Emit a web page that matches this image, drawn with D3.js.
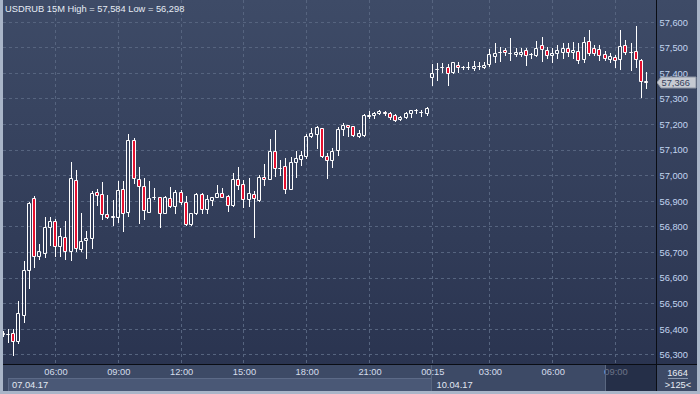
<!DOCTYPE html>
<html><head><meta charset="utf-8">
<script src="https://cdn.jsdelivr.net/npm/d3@7"></script>
<style>
html,body{margin:0;padding:0;background:#2e3854;}
svg{display:block;font-family:"Liberation Sans",Arial,sans-serif;}
</style>
</head><body>
<svg id="chart" width="700" height="394"></svg>
<script>
// ---------- DATA ----------
const day1Times = ["03:30","03:45",
"04:00","04:15","04:30","04:45","05:00","05:15","05:30","05:45",
"06:00","06:15","06:30","06:45","07:00","07:15","07:30","07:45",
"08:00","08:15","08:30","08:45","09:00","09:15","09:30","09:45",
"10:00","10:15","10:30","10:45","11:00","11:15","11:30","11:45",
"12:00","12:15","12:30","12:45","13:00","13:15","13:30","13:45",
"14:00","14:15","14:30","14:45","15:00","15:15","15:30","15:45",
"16:00","16:15","16:30","16:45","17:00","17:15","17:30","17:45",
"18:00","18:15","18:30","18:45","19:00","19:15","19:30","19:45",
"20:00","20:15","20:30","20:45","21:00","21:15","21:30","21:45",
"22:00","22:15","22:30","22:45","23:00","23:15","23:30","23:45"];
const day2Times = ["00:15","00:30","00:45",
"01:00","01:15","01:30","01:45","02:00","02:15","02:30","02:45",
"03:00","03:15","03:30","03:45","04:00","04:15","04:30","04:45",
"05:00","05:15","05:30","05:45","06:00","06:15","06:30","06:45",
"07:00","07:15","07:30","07:45","08:00","08:15","08:30","08:45",
"09:00","09:15","09:30","09:45","10:00","10:15","10:30"];
const dates = ["07.04.17","10.04.17"];
const categories = day1Times.map(t => dates[0] + " " + t).concat(day2Times.map(t => dates[1] + " " + t));

const open = [56.379,56.381,56.385,56.353,56.452,56.629,56.909,56.684,56.694,56.799,
56.820,56.725,56.757,56.703,56.983,56.711,56.746,56.754,56.933,56.926,
56.847,56.838,56.838,56.945,56.855,57.137,56.987,56.956,56.858,56.913,
56.914,56.851,56.910,56.879,56.933,56.897,56.811,56.851,56.927,56.867,
56.903,56.914,56.930,56.918,56.883,56.984,56.965,56.906,56.927,56.905,
56.992,56.987,57.095,57.029,57.036,56.945,57.050,57.065,57.077,57.155,
57.163,57.184,57.075,57.058,57.098,57.179,57.196,57.191,57.155,57.157,
57.233,57.236,57.243,57.249,57.242,57.235,57.219,57.228,57.245,57.253,
57.248,57.245,57.382,57.414,57.422,57.422,57.405,57.430,57.422,57.424,
57.418,57.427,57.422,57.434,57.464,57.483,57.490,57.479,57.473,57.474,
57.490,57.473,57.468,57.509,57.490,57.470,57.477,57.483,57.496,57.481,
57.487,57.453,57.526,57.496,57.494,57.473,57.453,57.461,57.453,57.509,
57.483,57.486,57.450,57.367];
const high = [56.391,56.398,56.398,56.508,56.666,56.897,56.920,56.731,56.836,56.837,
56.830,56.793,56.821,57.051,57.021,56.853,56.782,56.940,56.946,56.973,
56.922,56.903,56.978,56.978,57.160,57.144,57.031,56.991,56.976,56.949,
56.915,56.919,56.953,56.944,56.942,56.919,56.854,56.931,56.932,56.923,
56.916,56.962,56.949,56.923,57.010,57.031,56.980,56.988,56.939,56.999,
57.044,57.141,57.177,57.060,57.068,57.070,57.093,57.096,57.163,57.183,
57.191,57.185,57.086,57.105,57.190,57.203,57.196,57.193,57.177,57.240,
57.251,57.249,57.253,57.252,57.249,57.238,57.231,57.246,57.256,57.259,
57.256,57.268,57.436,57.438,57.438,57.435,57.444,57.442,57.427,57.444,
57.447,57.444,57.444,57.494,57.516,57.503,57.496,57.536,57.496,57.496,
57.496,57.479,57.525,57.542,57.503,57.496,57.509,57.516,57.516,57.522,
57.516,57.542,57.568,57.509,57.509,57.487,57.477,57.470,57.566,57.529,
57.515,57.584,57.453,57.405];
const low = [56.372,56.349,56.298,56.343,56.427,56.561,56.643,56.674,56.679,56.727,
56.684,56.684,56.671,56.668,56.705,56.705,56.675,56.716,56.882,56.827,
56.834,56.806,56.818,56.783,56.842,56.969,56.812,56.829,56.856,56.906,
56.799,56.851,56.875,56.854,56.888,56.806,56.804,56.847,56.851,56.851,
56.884,56.914,56.914,56.861,56.880,56.945,56.877,56.880,56.757,56.901,
56.962,56.984,56.997,57.001,56.932,56.945,56.994,57.038,57.066,57.150,
57.107,57.071,56.990,57.034,57.079,57.157,57.154,57.154,57.148,57.155,
57.223,57.223,57.240,57.236,57.219,57.213,57.215,57.225,57.229,57.242,
57.232,57.236,57.353,57.374,57.405,57.353,57.401,57.405,57.417,57.417,
57.412,57.417,57.418,57.428,57.444,57.447,57.470,57.451,57.464,57.464,
57.431,57.460,57.464,57.447,57.457,57.442,57.457,57.457,57.464,57.457,
57.438,57.444,57.470,57.470,57.451,57.451,57.444,57.424,57.415,57.474,
57.410,57.424,57.307,57.339];
const close = [56.385,56.381,56.353,56.460,56.629,56.890,56.684,56.703,56.797,56.820,
56.725,56.762,56.703,56.988,56.714,56.743,56.754,56.930,56.922,56.847,
56.838,56.839,56.941,56.851,57.137,56.988,56.957,56.863,56.909,56.914,
56.851,56.914,56.880,56.933,56.894,56.808,56.851,56.927,56.869,56.907,
56.914,56.930,56.916,56.883,56.984,56.961,56.906,56.930,56.909,56.992,
56.984,57.095,57.027,57.030,56.945,57.051,57.066,57.079,57.154,57.164,
57.188,57.074,57.059,57.095,57.180,57.197,57.188,57.156,57.165,57.235,
57.234,57.243,57.251,57.242,57.229,57.217,57.227,57.242,57.254,57.254,
57.247,57.262,57.399,57.414,57.422,57.399,57.442,57.422,57.422,57.424,
57.427,57.427,57.431,57.474,57.477,57.483,57.481,57.479,57.481,57.483,
57.468,57.473,57.499,57.494,57.468,57.479,57.490,57.496,57.483,57.490,
57.451,57.522,57.479,57.477,57.468,57.457,57.464,57.449,57.505,57.483,
57.483,57.453,57.367,57.366];

const yTicks = [56.3,56.4,56.5,56.6,56.7,56.8,56.9,57.0,57.1,57.2,57.3,57.4,57.5,57.6];
const xTicks = ["07.04.17 06:00","07.04.17 09:00","07.04.17 12:00","07.04.17 15:00",
"07.04.17 18:00","07.04.17 21:00","10.04.17 00:15","10.04.17 03:00",
"10.04.17 06:00","10.04.17 09:00"];
const symbol = "USDRUB";
const period = "15M";
const barCountLabel = "1664";
const zoomLabel = ">125<";

// ---------- LAYOUT ----------
const W = 700, H = 394;
const plot = {left: 3, right: 656, top: 0, bottom: 364};
const svg = d3.select("#chart");
const fmt = v => d3.format(".3f")(v).replace(".", ",");

const x = d3.scalePoint().domain(categories).range([2.66, 646.4]);
const y = d3.scaleLinear().domain([56.3, 57.6]).range([354.3, 21.7]);

const defs = svg.append("defs");
const grad = defs.append("linearGradient").attr("id","bg").attr("x1",0).attr("x2",0).attr("y1",0).attr("y2",1);
grad.append("stop").attr("offset","0%").attr("stop-color","#3e4b67");
grad.append("stop").attr("offset","100%").attr("stop-color","#2a3450");
defs.append("clipPath").attr("id","clip").append("rect")
  .attr("x",plot.left).attr("y",0).attr("width",plot.right-plot.left).attr("height",plot.bottom);

// background
svg.append("rect").attr("x",0).attr("y",0).attr("width",W).attr("height",365).attr("fill","url(#bg)");

// gridlines
const grid = svg.append("g").attr("stroke","#56647f").attr("stroke-dasharray","3,3").attr("stroke-width",1);
grid.selectAll(".hg").data(yTicks).join("line")
  .attr("x1",plot.left).attr("x2",plot.right)
  .attr("y1",d=>Math.round(y(d))+0.5).attr("y2",d=>Math.round(y(d))+0.5);
grid.selectAll(".vg").data(xTicks).join("line")
  .attr("x1",d=>Math.round(x(d))+0.5).attr("x2",d=>Math.round(x(d))+0.5)
  .attr("y1",0).attr("y2",plot.bottom);

// candles
const data = categories.map((t,i)=>({t, o:open[i], h:high[i], l:low[i], c:close[i]}));
const cg = svg.append("g").attr("clip-path","url(#clip)");
const cand = cg.selectAll("g.c").data(data).join("g").attr("class","c");
function geo(d){
  const cx = Math.round(x(d.t));
  const top = Math.round(Math.min(y(d.o), y(d.c))) + 0.5;
  const bot = Math.round(Math.max(y(d.o), y(d.c))) + 0.5;
  return {cx, top, bot, yh: Math.round(y(d.h)), yl: Math.round(y(d.l)) + 1};
}
cand.append("line").attr("stroke","#ffffff")
  .attr("x1",d=>geo(d).cx+0.5).attr("x2",d=>geo(d).cx+0.5)
  .attr("y1",d=>geo(d).yh).attr("y2",d=>geo(d).top);
cand.append("line").attr("stroke","#ffffff")
  .attr("x1",d=>geo(d).cx+0.5).attr("x2",d=>geo(d).cx+0.5)
  .attr("y1",d=>geo(d).bot).attr("y2",d=>geo(d).yl);
cand.append("path")
  .attr("d",d=>{const g=geo(d); return `M${g.cx-1.5},${g.top}h3v${g.bot-g.top}h-3z`;})
  .attr("fill",d=>d.c<d.o ? "#e5102f" : "none")
  .attr("stroke","#ffffff").attr("stroke-width",1);

// title
svg.append("text").attr("x",5).attr("y",11.5).attr("fill","#e6ecf5").attr("font-size","9.3px")
  .text(`${symbol} ${period} High = ${fmt(d3.max(high))} Low = ${fmt(d3.min(low))}`);

// right axis
const yAxis = d3.axisRight(y).tickValues(yTicks).tickSize(0).tickPadding(0).tickFormat(fmt);
const ya = svg.append("g").attr("transform",`translate(659.5,0)`).call(yAxis);
ya.select(".domain").remove();
ya.selectAll("text").attr("fill","#c2d5f0").attr("font-size","9.3px")
  .attr("font-family","'Liberation Sans',Arial,sans-serif").attr("dy","0.36em");

// current price marker
const last = close[close.length-1];
const cy = Math.round(y(last)) + 0.5;
svg.append("path")
  .attr("d",`M657,${cy}L661,${cy-5.5}H696V${cy+5.5}H661Z`)
  .attr("fill","#c6cad2").attr("stroke","#8d95a4").attr("stroke-width",1);
svg.append("text").attr("x",661.5).attr("y",cy).attr("dy","0.36em")
  .attr("fill","#34405a").attr("font-size","9.3px").text(fmt(last));

// bottom area
svg.append("rect").attr("x",0).attr("y",365).attr("width",W).attr("height",29).attr("fill","#3d4a66");
svg.append("rect").attr("x",8.5).attr("y",378.5).attr("width",423).attr("height",14)
  .attr("fill","#4a5876").attr("stroke","#5c6a87");
svg.append("line").attr("x1",431.5).attr("x2",431.5).attr("y1",365).attr("y2",391).attr("stroke","#58667f");

const xAxis = d3.axisBottom(x).tickValues(xTicks).tickSize(0).tickPadding(0).tickFormat(d=>d.split(" ")[1]);
const xa = svg.append("g").attr("transform","translate(0.5,368)").call(xAxis);
xa.select(".domain").remove();
xa.selectAll("text").attr("fill","#d6deec").attr("font-size","9.3px")
  .attr("font-family","'Liberation Sans',Arial,sans-serif").attr("dy","0.71em");

svg.selectAll(".dl").data(dates).join("text")
  .attr("x",(d,i)=> i===0 ? 12 : Math.round(x(categories.find(c=>c.startsWith(d))))+4.5)
  .attr("y",387.5).attr("fill","#e2e8f2").attr("font-size","9.3px").text(d=>d);

// dim overlay box at right of time axis
svg.append("rect").attr("x",605.5).attr("y",365).attr("width",51).attr("height",26)
  .attr("fill","rgb(18,26,48)").attr("fill-opacity",0.55);
svg.append("line").attr("x1",605.5).attr("x2",605.5).attr("y1",365).attr("y2",391).attr("stroke","#5a6780");

// bottom-right info box
svg.append("text").attr("x",677.5).attr("y",375.5).attr("text-anchor","middle")
  .attr("fill","#e8ecf4").attr("font-size","9.3px").text(barCountLabel);
svg.append("line").attr("x1",668).attr("x2",688).attr("y1",378.5).attr("y2",378.5).attr("stroke","#8c98ad");
svg.append("text").attr("x",678).attr("y",388).attr("text-anchor","middle")
  .attr("fill","#e8ecf4").attr("font-size","9.3px").text(zoomLabel);

// black separators
svg.append("line").attr("x1",656.5).attr("x2",656.5).attr("y1",0).attr("y2",391).attr("stroke","#0a0d14");
svg.append("line").attr("x1",0).attr("x2",W).attr("y1",364.5).attr("y2",364.5).attr("stroke","#0a0d14");

// light outer frame (left, right, bottom)
svg.append("rect").attr("x",0).attr("y",0).attr("width",3).attr("height",H).attr("fill","#a9b5c8");
svg.append("rect").attr("x",697).attr("y",0).attr("width",3).attr("height",H).attr("fill","#a9b5c8");
svg.append("rect").attr("x",0).attr("y",391).attr("width",W).attr("height",3).attr("fill","#a9b5c8");
</script>
</body></html>
